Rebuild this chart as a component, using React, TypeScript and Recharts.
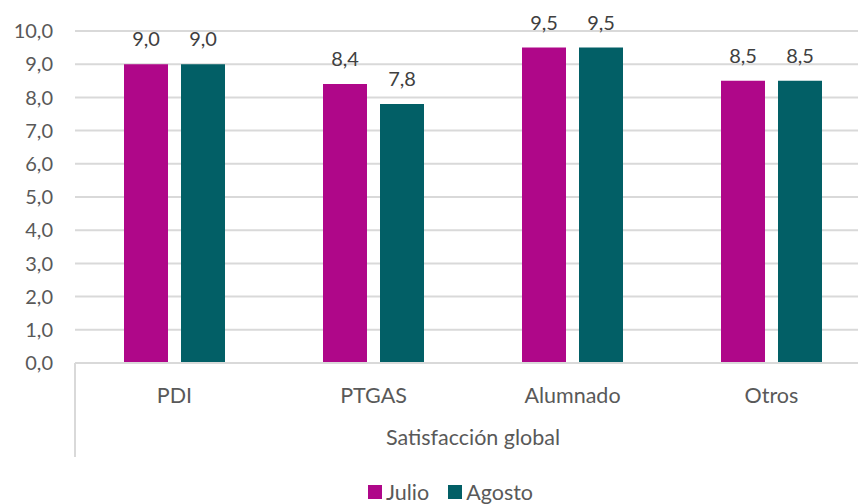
import React from "react"
import { Bar, BarChart, CartesianGrid, LabelList, Legend, XAxis, YAxis } from "recharts"

const categories = ["PDI", "PTGAS", "Alumnado", "Otros"]
const julio = [9.0, 8.4, 9.5, 8.5]
const agosto = [9.0, 7.8, 9.5, 8.5]
const yTicks = [0, 1, 2, 3, 4, 5, 6, 7, 8, 9, 10]
const groupLabel = "Satisfacción global"

const series = [
  { key: "julio", name: "Julio", color: "#AF0789" },
  { key: "agosto", name: "Agosto", color: "#025F66" },
]

const data = categories.map((name, i) => ({ name, julio: julio[i], agosto: agosto[i] }))

const FONT = "Lato, 'Open Sans', sans-serif"
const fmt = (v: number) => Number(v).toFixed(1).replace(".", ",")

// second level of the category axis: outer line + group name
const GroupLabel = (props: any) => {
  const { x, y, width, height } = props.viewBox
  return (
    <g>
      <line x1={x} y1={y} x2={x} y2={y + height} stroke="#d9d9d9" strokeWidth={2} />
      <text x={x + width / 2} y={y + height - 12} textAnchor="middle" fill="#595959" fontSize={21.5} fontFamily={FONT}>
        {groupLabel}
      </text>
    </g>
  )
}

const LegendContent = () => (
  <div style={{ display: "flex", justifyContent: "center", alignItems: "center", height: 47, paddingTop: 22, paddingLeft: 49, boxSizing: "border-box", fontFamily: FONT, fontSize: 21.5, color: "#595959" }}>
    {series.map((s) => (
      <span key={s.key} style={{ display: "flex", alignItems: "center", marginRight: 19 }}>
        <span style={{ width: 14, height: 14, background: s.color, display: "inline-block", marginRight: 4 }} />
        {s.name}
      </span>
    ))}
  </div>
)

export default function App() {
  return (
    <div style={{ position: "absolute", left: 0, top: 0, width: 858, height: 504, overflow: "hidden", background: "#fff" }}>
      <BarChart width={872} height={504} data={data} margin={{ top: 31, right: 1, left: 0, bottom: 0 }} barSize={44} barGap={13}>
        <CartesianGrid vertical={false} stroke="#d9d9d9" strokeWidth={2} />
        <YAxis
          width={75}
          domain={[0, 10]}
          ticks={yTicks}
          tickFormatter={fmt}
          axisLine={false}
          tickLine={false}
          tickSize={0}
          tickMargin={22}
          tick={{ fill: "#595959", fontSize: 20, fontFamily: FONT }}
        />
        <XAxis
          dataKey="name"
          height={94}
          axisLine={{ stroke: "#d9d9d9", strokeWidth: 2 }}
          tickLine={false}
          tickSize={0}
          tickMargin={25}
          tick={{ fill: "#595959", fontSize: 21.5, fontFamily: FONT }}
          label={<GroupLabel />}
        />
        <Legend verticalAlign="bottom" content={<LegendContent />} />
        {series.map((s) => (
          <Bar key={s.key} dataKey={s.key} name={s.name} fill={s.color} isAnimationActive={false}>
            <LabelList dataKey={s.key} position="top" offset={18} formatter={fmt} fill="#404040" fontSize={20} fontFamily={FONT} />
          </Bar>
        ))}
      </BarChart>
    </div>
  )
}
